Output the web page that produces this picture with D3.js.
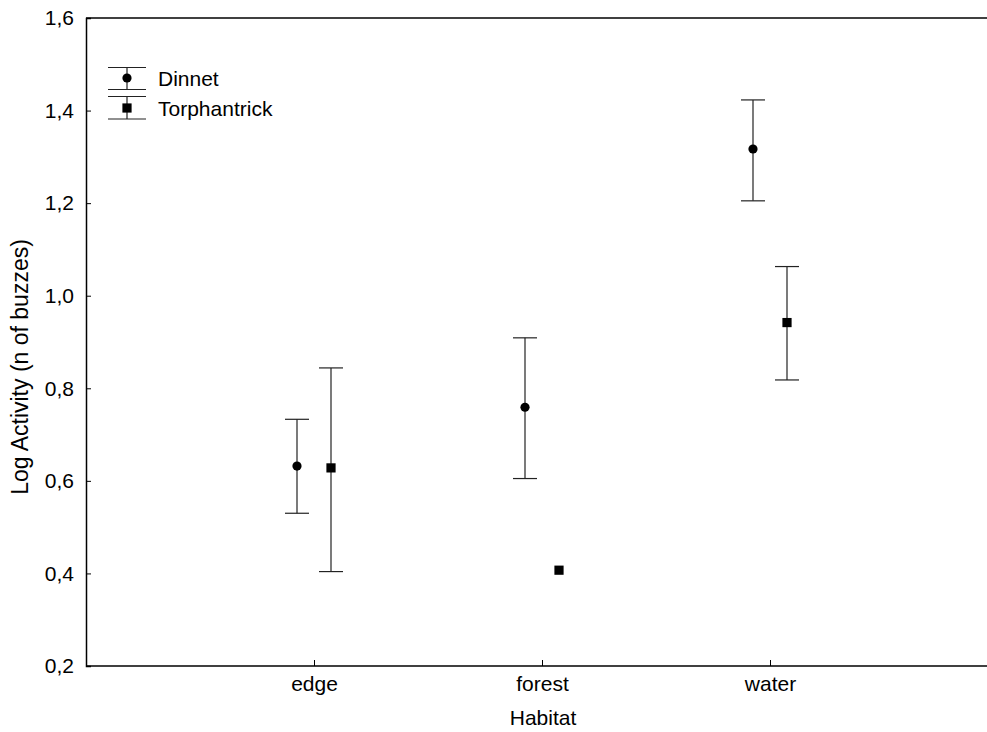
<!DOCTYPE html>
<html>
<head>
<meta charset="utf-8">
<script src="https://cdn.jsdelivr.net/npm/d3@7"></script>
<style>
  body { margin: 0; background: #fff; }
  svg { display: block; font-family: "Liberation Sans", Arial, sans-serif; }
</style>
</head>
<body>
<div id="chart"></div>
<script>
'use strict';

// データ
const habitats = ['edge', 'forest', 'water'];
const sites = ['Dinnet', 'Torphantrick'];
const dinnetMean = [0.632, 0.759, 1.317];
const dinnetLow = [0.530, 0.605, 1.205];
const dinnetHigh = [0.733, 0.909, 1.423];
const torphMean = [0.628, 0.407, 0.942];
const torphLow = [0.404, null, 0.818];
const torphHigh = [0.844, null, 1.063];
const yTicks = [0.2, 0.4, 0.6, 0.8, 1.0, 1.2, 1.4, 1.6];

const width = 987;
const height = 732;
const plotLeft = 86, plotTop = 18, plotBottom = 666;
const fontSize = 21;

const svg = d3.select('#chart').append('svg')
    .attr('width', width)
    .attr('height', height);

// 軸スケール（カテゴリは1,2,3に配置、右端は画像外まで）
const x = d3.scaleLinear().domain([0, 4]).range([plotLeft, 998]);
const y = d3.scaleLinear().domain([0.2, 1.6]).range([plotBottom, plotTop]);
const offset = d3.scalePoint().domain(sites).range([-17, 17]);

// 枠線（上と左と下）
svg.append('line')
    .attr('x1', plotLeft).attr('x2', width)
    .attr('y1', plotTop).attr('y2', plotTop)
    .attr('stroke', '#000').attr('stroke-width', 1.5);

const yAxis = svg.append('g')
    .attr('transform', `translate(${plotLeft},0)`)
    .call(d3.axisLeft(y).tickValues(yTicks)
        .tickSize(-5).tickPadding(12)
        .tickFormat(d => d3.format('.1f')(d).replace('.', ',')));
yAxis.select('.domain').attr('stroke-width', 1.5);
yAxis.selectAll('text').attr('font-size', fontSize).attr('fill', '#000')
    .attr('font-family', '"Liberation Sans", Arial, sans-serif');

const xAxis = svg.append('g')
    .attr('transform', `translate(0,${plotBottom})`)
    .call(d3.axisBottom(x).tickValues([1, 2, 3])
        .tickSize(-6).tickPadding(10)
        .tickFormat(d => habitats[d - 1]));
xAxis.select('.domain').attr('d', `M${plotLeft},0H${width}`).attr('stroke-width', 1.5);
xAxis.selectAll('text').attr('font-size', fontSize).attr('fill', '#000')
    .attr('font-family', '"Liberation Sans", Arial, sans-serif');

// 軸タイトル
svg.append('text')
    .attr('x', x(2) + 1).attr('y', 725)
    .attr('text-anchor', 'middle')
    .attr('font-size', fontSize)
    .text('Habitat');
svg.append('text')
    .attr('transform', 'translate(28,367) rotate(-90)')
    .attr('text-anchor', 'middle')
    .attr('font-size', 23)
    .text('Log Activity (n of buzzes)');

// 系列データを組み立て
const series = [
    { name: 'Dinnet', shape: 'circle', mean: dinnetMean, low: dinnetLow, high: dinnetHigh },
    { name: 'Torphantrick', shape: 'square', mean: torphMean, low: torphLow, high: torphHigh }
];
const capHalf = 12;

series.forEach(s => {
    const g = svg.append('g');
    habitats.forEach((h, i) => {
        const cx = x(i + 1) + offset(s.name);
        if (s.low[i] != null) {
            g.append('line')
                .attr('x1', cx).attr('x2', cx)
                .attr('y1', y(s.low[i])).attr('y2', y(s.high[i]))
                .attr('stroke', '#222').attr('stroke-width', 1.2);
            [s.low[i], s.high[i]].forEach(v => {
                g.append('line')
                    .attr('x1', cx - capHalf).attr('x2', cx + capHalf)
                    .attr('y1', y(v)).attr('y2', y(v))
                    .attr('stroke', '#222').attr('stroke-width', 1.2);
            });
        }
        if (s.shape === 'circle') {
            g.append('circle').attr('cx', cx).attr('cy', y(s.mean[i])).attr('r', 4.6);
        } else {
            g.append('rect')
                .attr('x', cx - 4.6).attr('y', y(s.mean[i]) - 4.6)
                .attr('width', 9.2).attr('height', 9.2);
        }
    });
});

// 凡例
const legend = svg.append('g').attr('transform', 'translate(127,0)');
const legendRows = [
    { name: 'Dinnet', shape: 'circle', top: 67.5, mid: 78, bottom: 89.5 },
    { name: 'Torphantrick', shape: 'square', top: 96.5, mid: 108, bottom: 119 }
];
legendRows.forEach(r => {
    legend.append('line').attr('x1', 0).attr('x2', 0)
        .attr('y1', r.top).attr('y2', r.bottom)
        .attr('stroke', '#222').attr('stroke-width', 1.2);
    [r.top, r.bottom].forEach(v => {
        legend.append('line').attr('x1', -19).attr('x2', 19)
            .attr('y1', v).attr('y2', v)
            .attr('stroke', '#222').attr('stroke-width', 1.2);
    });
    if (r.shape === 'circle') {
        legend.append('circle').attr('cx', 0).attr('cy', r.mid).attr('r', 4.6);
    } else {
        legend.append('rect').attr('x', -4.6).attr('y', r.mid - 4.6)
            .attr('width', 9.2).attr('height', 9.2);
    }
    legend.append('text')
        .attr('x', 31).attr('y', r.mid + 8)
        .attr('font-size', fontSize)
        .text(r.name);
});
</script>
</body>
</html>
